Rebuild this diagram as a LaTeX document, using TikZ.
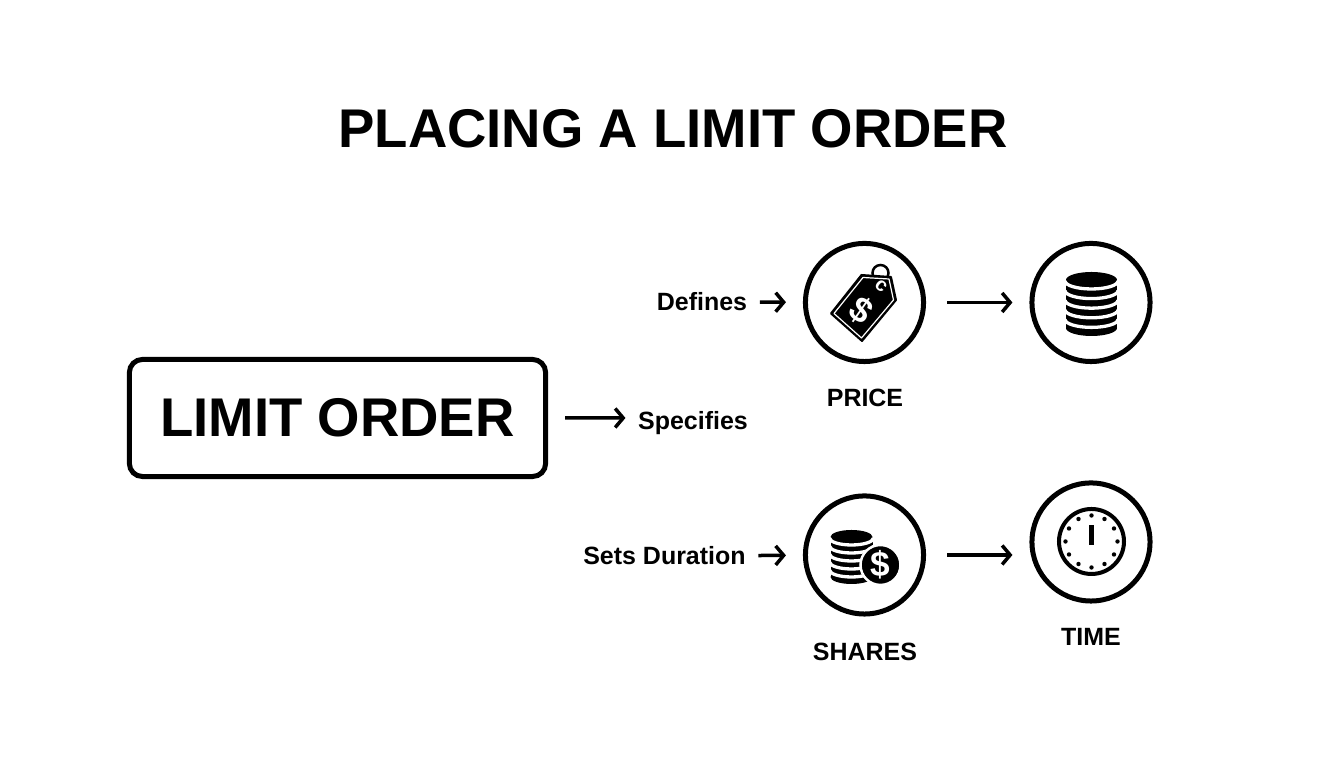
\documentclass[tikz,border=0pt]{standalone}
\usepackage{fontspec}
\setmainfont{Liberation Sans}
\usetikzlibrary{arrows.meta}
\tikzset{
  titletext/.style={font=\fontsize{15.5}{18}\selectfont\bfseries},
  labeltext/.style={font=\fontsize{7.1}{9}\selectfont\bfseries,inner sep=0pt},
  iconring/.style={circle,draw,line width=0.05cm,minimum size=1.18cm,inner sep=0pt},
  arrowline/.style={line width=0.035cm,-{Straight Barb[length=0.08cm,width=0.19cm,line width=0.035cm]}}
}
\newcommand{\coinstack}[5]{% x, y of top disc, half width, half height, pitch
  \fill (#1,#2+5*#5) ellipse[x radius=#3,y radius=#4];
  \fill (#1-#3,#2) rectangle (#1+#3,#2+5*#5);
  \fill (#1,#2) ellipse[x radius=#3,y radius=#4];
  \foreach \k in {0,...,4}{
    \draw[white,line width=0.033cm] (#1-#3-1,#2+\k*#5+1) arc[start angle=180,end angle=0,x radius=#3+1,y radius=#4];
  }
}
\begin{document}
\begin{tikzpicture}[x=0.01cm,y=-0.01cm]
\useasboundingbox (0,0) rectangle (1344,768);
\node[titletext] (heading) at (673,129) {PLACING A LIMIT ORDER};
\node[titletext,draw,line width=0.05cm,rounded corners=0.13cm,minimum width=4.16cm,minimum height=1.17cm,inner sep=0pt] (limit) at (337.5,418) {LIMIT ORDER};

\node[iconring] (price) at (864.5,302.5) {};
\node[iconring] (stack) at (1091,302.5) {};
\node[iconring] (shares) at (864.5,555) {};
\node[iconring] (time) at (1091,542) {};

\node[labeltext] (defines) at (702,302) {Defines};
\node[labeltext] (specifies) at (693,423) {Specifies};
\node[labeltext] (duration) at (664.5,556) {Sets Duration};
\node[labeltext] (pricetext) at (865,398) {PRICE};
\node[labeltext] (sharestext) at (865,652) {SHARES};
\node[labeltext] (timetext) at (1091,637) {TIME};

\draw[arrowline,shorten <=0.17cm,shorten >=0.12cm] (limit.east) -- ([yshift=0.05cm]specifies.west);
\draw[arrowline,shorten <=0.12cm,shorten >=0.17cm] (defines) -- (price);
\draw[arrowline,shorten <=0.12cm,shorten >=0.17cm] (duration) -- (shares);
\draw[arrowline,shorten <=0.21cm,shorten >=0.17cm] (price) -- (stack);
\draw[arrowline,shorten <=0.21cm,shorten >=0.17cm] (shares.east) -- (time.west |- shares.east);

% price tag
\filldraw[fill=white,draw=black,line width=0.025cm] (880.5,273) circle (8);
\filldraw[fill=black,draw=black,line width=0.02cm,line join=round] (861.5,275) -- (891,277) -- (896,300) -- (862,341) -- (831,313.5) -- cycle;
\draw[white,line width=0.012cm,line join=round] (863,277.5) -- (889,279) -- (893.5,300) -- (861.5,338) -- (834,313.5) -- cycle;
\node[white,font=\fontsize{10}{12}\selectfont\bfseries,rotate=-35,inner sep=0pt] (dollar) at (861,311) {\$};
\node[white,font=\fontsize{5.5}{6}\selectfont\bfseries,rotate=-40,inner sep=0pt] (cent) at (881,286) {c};

% stack
\coinstack{1091.5}{280}{25.5}{8}{9.6}

% shares
\coinstack{851.5}{537}{21}{7}{8}
\filldraw[fill=black,draw=white,line width=0.025cm] (880.5,565) circle (20);
\node[white,font=\fontsize{10}{12}\selectfont\bfseries,inner sep=0pt] (coin) at (880.5,565) {\$};

% clock
\draw[line width=0.04cm] (1091.5,541.5) circle (32.5);
\foreach \a in {0,30,...,330}{
  \fill (1091.5,541.5) ++(\a:26) circle (2.2);
}
\draw[line width=0.045cm] (1091.5,545) -- (1091.5,525);
\end{tikzpicture}
\end{document}
